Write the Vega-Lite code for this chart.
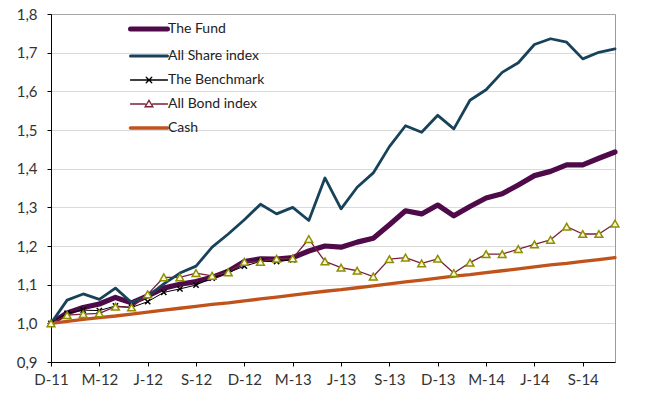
{
  "$schema": "https://vega.github.io/schema/vega-lite/v6.json",
  "autosize": "none",
  "width": 564,
  "height": 348,
  "padding": {"left": 51, "top": 14, "right": 32, "bottom": 43},
  "background": "white",
  "config": {
    "font": "Lato",
    "view": {"stroke": "#9a9a9a", "strokeWidth": 1},
    "axis": {"labelFont": "Lato", "labelFontSize": 15, "labelColor": "#333333", "domainColor": "#000000", "tickColor": "#000000", "tickSize": 4, "title": null}
  },
  "data": {
    "values": [
      {"m": "2011-12", "fund": 1.000, "share": 1.000, "bench": 1.000, "bond": 1.000, "cash": 1.000},
      {"m": "2012-01", "fund": 1.027, "share": 1.060, "bench": 1.026, "bond": 1.021, "cash": 1.005},
      {"m": "2012-02", "fund": 1.041, "share": 1.076, "bench": 1.034, "bond": 1.024, "cash": 1.010},
      {"m": "2012-03", "fund": 1.050, "share": 1.062, "bench": 1.033, "bond": 1.026, "cash": 1.015},
      {"m": "2012-04", "fund": 1.067, "share": 1.091, "bench": 1.045, "bond": 1.043, "cash": 1.019},
      {"m": "2012-05", "fund": 1.053, "share": 1.054, "bench": 1.041, "bond": 1.041, "cash": 1.024},
      {"m": "2012-06", "fund": 1.071, "share": 1.070, "bench": 1.056, "bond": 1.075, "cash": 1.029},
      {"m": "2012-07", "fund": 1.091, "share": 1.102, "bench": 1.080, "bond": 1.119, "cash": 1.034},
      {"m": "2012-08", "fund": 1.101, "share": 1.130, "bench": 1.089, "bond": 1.119, "cash": 1.039},
      {"m": "2012-09", "fund": 1.108, "share": 1.148, "bench": 1.099, "bond": 1.130, "cash": 1.044},
      {"m": "2012-10", "fund": 1.119, "share": 1.197, "bench": 1.117, "bond": 1.123, "cash": 1.049},
      {"m": "2012-11", "fund": 1.135, "share": 1.231, "bench": 1.131, "bond": 1.132, "cash": 1.053},
      {"m": "2012-12", "fund": 1.160, "share": 1.268, "bench": 1.148, "bond": 1.159, "cash": 1.058},
      {"m": "2013-01", "fund": 1.167, "share": 1.308, "bench": 1.160, "bond": 1.159, "cash": 1.063},
      {"m": "2013-02", "fund": 1.166, "share": 1.283, "bench": 1.160, "bond": 1.167, "cash": 1.068},
      {"m": "2013-03", "fund": 1.170, "share": 1.300, "bench": 1.164, "bond": 1.168, "cash": 1.073},
      {"m": "2013-04", "fund": 1.187, "share": 1.266, "bench": null, "bond": 1.218, "cash": 1.078},
      {"m": "2013-05", "fund": 1.200, "share": 1.376, "bench": null, "bond": 1.160, "cash": 1.083},
      {"m": "2013-06", "fund": 1.197, "share": 1.296, "bench": null, "bond": 1.144, "cash": 1.087},
      {"m": "2013-07", "fund": 1.210, "share": 1.352, "bench": null, "bond": 1.136, "cash": 1.092},
      {"m": "2013-08", "fund": 1.220, "share": 1.389, "bench": null, "bond": 1.121, "cash": 1.097},
      {"m": "2013-09", "fund": 1.255, "share": 1.457, "bench": null, "bond": 1.166, "cash": 1.102},
      {"m": "2013-10", "fund": 1.291, "share": 1.511, "bench": null, "bond": 1.170, "cash": 1.107},
      {"m": "2013-11", "fund": 1.283, "share": 1.494, "bench": null, "bond": 1.155, "cash": 1.112},
      {"m": "2013-12", "fund": 1.306, "share": 1.538, "bench": null, "bond": 1.167, "cash": 1.117},
      {"m": "2014-01", "fund": 1.278, "share": 1.503, "bench": null, "bond": 1.130, "cash": 1.122},
      {"m": "2014-02", "fund": 1.302, "share": 1.577, "bench": null, "bond": 1.157, "cash": 1.126},
      {"m": "2014-03", "fund": 1.324, "share": 1.604, "bench": null, "bond": 1.179, "cash": 1.131},
      {"m": "2014-04", "fund": 1.335, "share": 1.649, "bench": null, "bond": 1.179, "cash": 1.136},
      {"m": "2014-05", "fund": 1.358, "share": 1.674, "bench": null, "bond": 1.192, "cash": 1.141},
      {"m": "2014-06", "fund": 1.382, "share": 1.721, "bench": null, "bond": 1.204, "cash": 1.146},
      {"m": "2014-07", "fund": 1.393, "share": 1.736, "bench": null, "bond": 1.216, "cash": 1.151},
      {"m": "2014-08", "fund": 1.410, "share": 1.727, "bench": null, "bond": 1.250, "cash": 1.155},
      {"m": "2014-09", "fund": 1.410, "share": 1.684, "bench": null, "bond": 1.231, "cash": 1.160},
      {"m": "2014-10", "fund": 1.427, "share": 1.701, "bench": null, "bond": 1.231, "cash": 1.165},
      {"m": "2014-11", "fund": 1.443, "share": 1.710, "bench": null, "bond": 1.258, "cash": 1.170}
    ]
  },
  "transform": [
    {"fold": ["fund", "share", "bench", "bond", "cash"], "as": ["key", "value"]},
    {"lookup": "key", "from": {"data": {"values": [
      {"key": "fund", "series": "The Fund"},
      {"key": "share", "series": "All Share index"},
      {"key": "bench", "series": "The Benchmark"},
      {"key": "bond", "series": "All Bond index"},
      {"key": "cash", "series": "Cash"}
    ]}, "key": "key", "fields": ["series"]}},
    {"filter": "isValid(datum.value)"}
  ],
  "encoding": {
    "x": {
      "field": "m", "type": "ordinal",
      "scale": {"type": "point", "padding": 0},
      "axis": {
        "values": ["2011-12", "2012-03", "2012-06", "2012-09", "2012-12", "2013-03", "2013-06", "2013-09", "2013-12", "2014-03", "2014-06", "2014-09"],
        "labelAngle": 0, "labelPadding": 6, "grid": false,
        "labelExpr": "substring('JFMAMJJASOND', toNumber(substring(datum.value,5,7))-1, toNumber(substring(datum.value,5,7))) + '-' + substring(datum.value,2,4)"
      }
    },
    "y": {
      "field": "value", "type": "quantitative",
      "scale": {"domain": [0.9, 1.8], "nice": false, "zero": false},
      "axis": {
        "values": [0.9, 1.0, 1.1, 1.2, 1.3, 1.4, 1.5, 1.6, 1.7, 1.8],
        "labelExpr": "replace(format(datum.value, '.1f'), '.', ',')",
        "labelPadding": 10,
        "grid": true, "gridColor": "#b5b5b5", "gridDash": [1, 1], "gridWidth": 1
      }
    }
  },
  "layer": [
    {
      "mark": {"type": "line", "strokeJoin": "round", "strokeCap": "round"},
      "encoding": {
        "color": {
          "field": "series", "type": "nominal",
          "scale": {"domain": ["The Fund", "All Share index", "The Benchmark", "All Bond index", "Cash"],
                    "range": ["#4e0a49", "#17425a", "#000000", "#7a1f3d", "#c0531c"]},
          "legend": {
            "title": null, "orient": "none", "legendX": 91, "legendY": 8,
            "padding": 0, "symbolSize": 342, "labelOffset": 12, "rowPadding": 10,
            "labelFont": "Lato", "labelFontSize": 14, "labelColor": "#222222",
            "symbolType": "stroke",
            "encode": {
              "symbols": {
                "update": {
                  "shape": {"signal": "datum.value === 'The Benchmark' ? 'M-2,0H2M-0.3,-0.3L0.3,0.3M-0.3,0.3L0.3,-0.3' : datum.value === 'All Bond index' ? 'M-2,0H-0.4M0.4,0H2M0,-0.4L0.42,0.3H-0.42Z' : 'M-2,0H2'"},
                  "strokeWidth": {"signal": "datum.value === 'The Fund' ? 5 : datum.value === 'All Share index' ? 3 : datum.value === 'Cash' ? 3.5 : 1.3"},
                  "fill": {"signal": "datum.value === 'All Bond index' ? '#f6f6dc' : 'transparent'"},
                  "strokeCap": {"value": "round"}
                }
              }
            }
          }
        },
        "strokeWidth": {
          "field": "series", "type": "nominal",
          "scale": {"type": "ordinal", "domain": ["Cash", "All Bond index", "The Benchmark", "All Share index", "The Fund"],
                    "range": [3.3, 1.3, 1, 2.8, 5.2]},
          "legend": null
        }
      }
    },
    {
      "transform": [{"filter": "datum.key === 'bench' || datum.key === 'bond'"}],
      "mark": {"type": "point", "filled": true, "opacity": 1, "strokeWidth": 1.5},
      "encoding": {
        "shape": {
          "field": "series", "type": "nominal",
          "scale": {"domain": ["The Benchmark", "All Bond index"], "range": ["M-1,-1L1,1M-1,1L1,-1", "triangle-up"]},
          "legend": null
        },
        "stroke": {
          "field": "series", "type": "nominal",
          "scale": {"domain": ["The Benchmark", "All Bond index"], "range": ["#000000", "#8e8e00"]},
          "legend": null
        },
        "fill": {
          "field": "series", "type": "nominal",
          "scale": {"domain": ["The Benchmark", "All Bond index"], "range": ["transparent", "#f6f6dc"]},
          "legend": null
        },
        "size": {
          "field": "series", "type": "nominal",
          "scale": {"type": "ordinal", "domain": ["The Benchmark", "All Bond index"], "range": [28, 60]},
          "legend": null
        }
      }
    }
  ]
}
